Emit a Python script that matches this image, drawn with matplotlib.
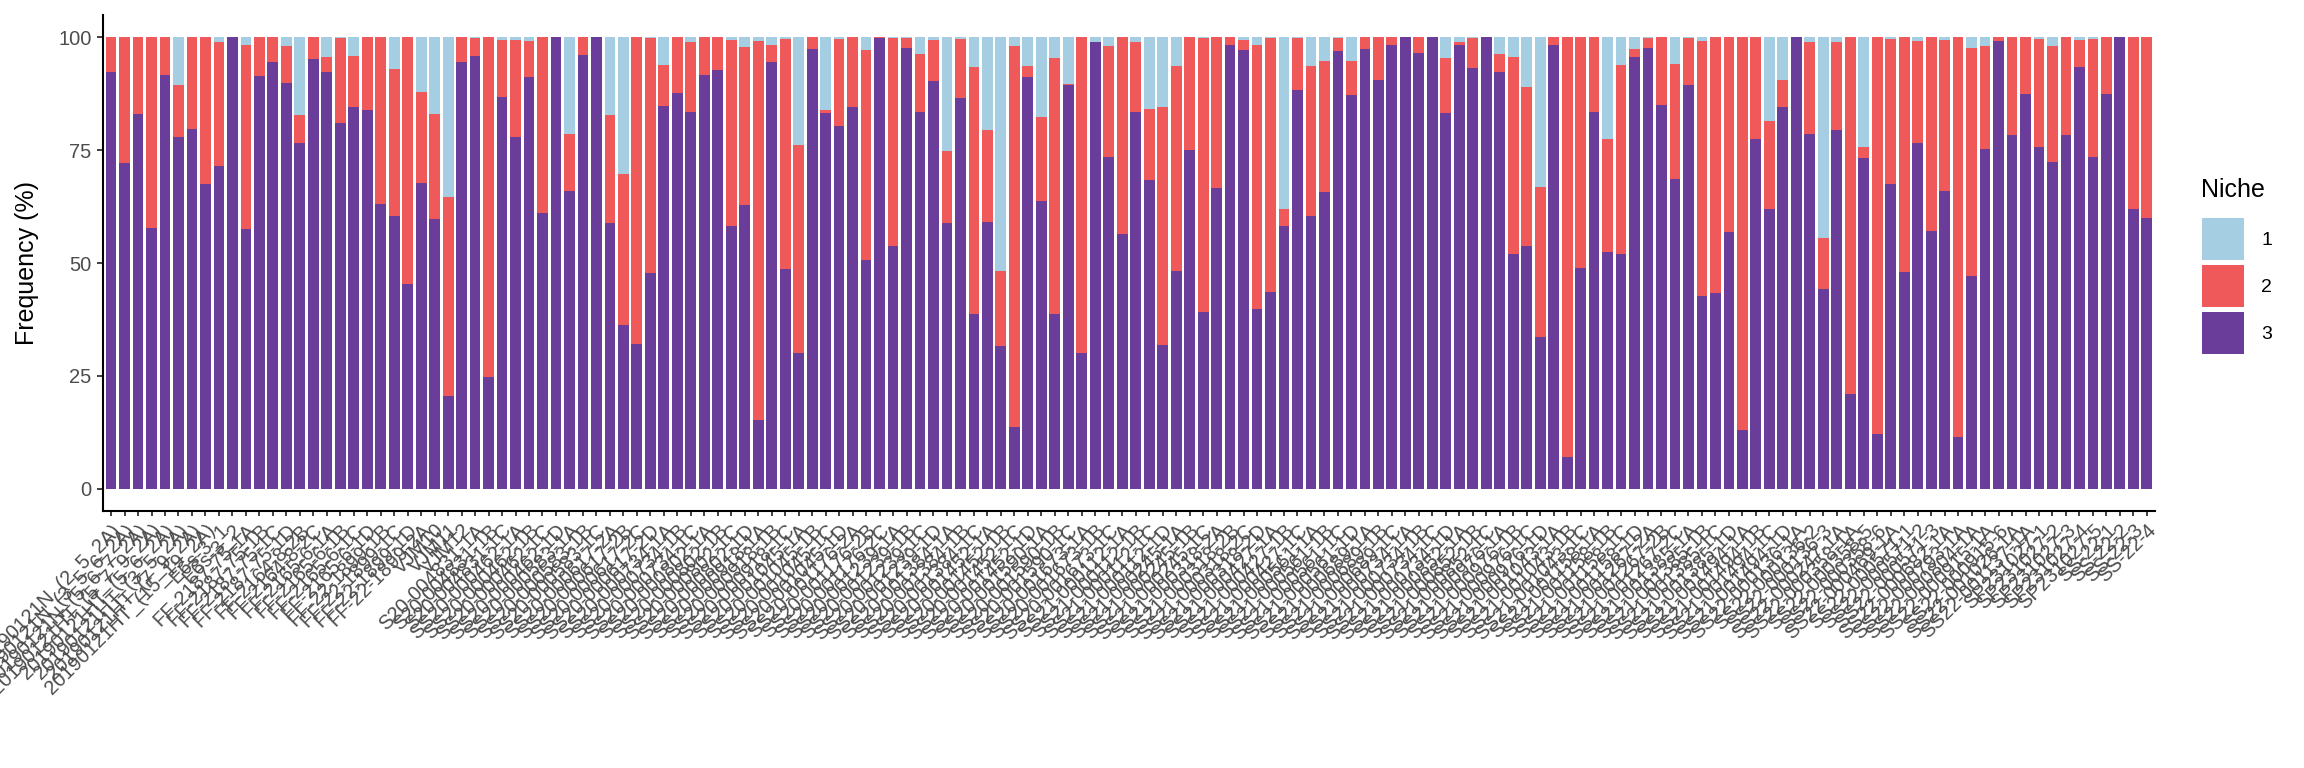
import matplotlib
matplotlib.use("Agg")
import matplotlib.pyplot as plt
from matplotlib.patches import Patch
import numpy as np

plt.rcParams['font.family'] = ['Liberation Sans', 'DejaVu Sans']

# sample names (x axis, in plot order)
samples = [
    "20190121N_(2_5_2A)", "20190121N_(3_5_6_2A)", "20190121N_(5_6_7_2A)", "20190121HT_(5_7_9_2A)",
    "20190121HT_(5_6_2A)", "20190121HT_(3_5_2A)", "20190121HT_(7_9_2A)", "20190121HT_(15_19_2A)",
    "E6s-3_1", "E6s-3_2",
    "FF-2187-75-1A", "FF-2187-75-1B", "FF-2187-75-1C", "FF-2187-75-1D", "FF-2164-8-2B", "FF-2164-8-2C",
    "FF-2165-6-1A", "FF-2165-6-1B", "FF-2165-6-1C", "FF-2165-6-1D", "FF-22-1899-1B", "FF-22-1899-1C",
    "FF-22-1899-1D", "FF-22-1899-2A",
    "VJM10", "VJM11", "VJM12",
    "S20-004831-1A", "S20-004831-1B", "S20-004831-1C",
    "SS20-000462-1A", "SS20-000462-1B", "SS20-000462-1C", "SS20-000462-1D",
    "SS20-000583-1A", "SS20-000583-1B", "SS20-000583-1C",
    "SS20-000617-2A", "SS20-000617-2B", "SS20-000617-2C", "SS20-000617-2D",
    "SS20-000734-1A", "SS20-000734-1B", "SS20-000734-1C",
    "SS20-000802-1A", "SS20-000802-1B", "SS20-000802-1C", "SS20-000802-1D",
    "SS20-000918-1A", "SS20-000918-1B", "SS20-000918-1C",
    "SS20-001045-1A", "SS20-001045-1B", "SS20-001045-1C", "SS20-001045-1D",
    "SS20-001176-2A", "SS20-001176-2B", "SS20-001176-2C",
    "SS20-001239-1A", "SS20-001239-1B", "SS20-001239-1C", "SS20-001239-1D",
    "SS20-001384-1A", "SS20-001384-1B", "SS20-001384-1C",
    "SS20-001452-1A", "SS20-001452-1B", "SS20-001452-1C", "SS20-001452-1D",
    "SS20-001590-1A", "SS20-001590-1B", "SS20-001590-1C",
    "SS20-001673-1A", "SS20-001673-1B", "SS20-001673-1C",
    "SS21-000112-1A", "SS21-000112-1B", "SS21-000112-1C", "SS21-000112-1D",
    "SS21-000245-1A", "SS21-000245-1B", "SS21-000245-1C",
    "SS21-000318-2A", "SS21-000318-2B", "SS21-000318-2C", "SS21-000318-2D",
    "SS21-000427-1A", "SS21-000427-1B", "SS21-000427-1C",
    "SS21-000561-1A", "SS21-000561-1B", "SS21-000561-1C", "SS21-000561-1D",
    "SS21-000689-1A", "SS21-000689-1B", "SS21-000689-1C",
    "SS21-000734-1A", "SS21-000734-1B", "SS21-000734-1C", "SS21-000734-1D",
    "SS21-000852-1A", "SS21-000852-1B", "SS21-000852-1C",
    "SS21-000976-1A", "SS21-000976-1B", "SS21-000976-1C", "SS21-000976-1D",
    "SS21-001043-1A", "SS21-001043-1B", "SS21-001043-1C",
    "SS21-001158-1A", "SS21-001158-1B", "SS21-001158-1C", "SS21-001158-1D",
    "SS21-001267-2A", "SS21-001267-2B", "SS21-001267-2C",
    "SS21-001385-1A", "SS21-001385-1B", "SS21-001385-1C", "SS21-001385-1D",
    "SS21-001494-1A", "SS21-001494-1B", "SS21-001494-1C", "SS21-001494-1D",
    "SS22-000136-1A", "SS22-000136-2", "SS22-000136-3", "SS22-000247-1A",
    "SS22-000358-1A", "SS22-000358-5", "SS22-000358-6", "SS22-000469-1A",
    "SS22-000571-1", "SS22-000571-2", "SS22-000571-3", "SS22-000682-1A",
    "SS22-000793-1A", "SS22-000804-1A", "SS22-000915-1A", "SS22-000915-6",
    "SS22-001026-1A", "SS22-001137-1A",
    "SP231027-1", "SP231027-2", "SP231027-3", "SP231027-4", "SP231027-5",
    "SS-22-1", "SS-22-2", "SS-22-3", "SS-22-4",
]

# frequency (%) of each niche per sample
niche3 = [
    92.3, 72.1, 83.0, 57.7, 91.6, 77.9, 79.6, 67.5, 71.5, 100.0,
    57.5, 91.4, 94.5, 89.8, 76.5, 95.1, 92.3, 81.0, 84.5, 83.8,
    63.1, 60.4, 45.4, 67.7, 59.7, 20.6, 94.5, 95.8, 24.8, 86.7,
    77.9, 91.2, 61.1, 100.0, 65.9, 96.0, 100.0, 58.8, 36.3, 32.1,
    47.8, 84.7, 87.6, 83.4, 91.6, 92.7, 58.2, 62.8, 15.3, 94.5,
    48.7, 30.1, 97.3, 83.2, 80.3, 84.5, 50.7, 99.8, 53.8, 97.6,
    83.4, 90.3, 58.8, 86.5, 38.7, 59.1, 31.6, 13.7, 91.2, 63.7,
    38.7, 89.4, 30.1, 98.9, 73.5, 56.4, 83.4, 68.4, 31.9, 48.2,
    75.0, 39.2, 66.6, 98.2, 97.1, 39.8, 43.6, 58.2, 88.3, 60.4,
    65.7, 96.9, 87.2, 97.3, 90.5, 98.2, 100.0, 96.5, 100.0, 83.2,
    98.2, 93.1, 100.0, 92.3, 52.0, 53.8, 33.6, 98.2, 7.1, 48.9,
    83.4, 52.4, 52.0, 95.6, 97.6, 85.0, 68.6, 89.4, 42.7, 43.4,
    56.9, 13.1, 77.4, 61.9, 84.5, 100.0, 78.5, 44.2, 79.4, 21.0,
    73.2, 12.2, 67.5, 48.0, 76.5, 57.1, 65.9, 11.5, 47.1, 75.2,
    99.1, 78.3, 87.4, 75.7, 72.3, 78.3, 93.4, 73.5, 87.4, 100.0,
    61.9, 60.0,
]
niche2 = [
    7.7, 27.9, 17.0, 42.3, 8.4, 11.5, 20.4, 32.5, 27.4, 0.0,
    40.7, 8.6, 5.5, 8.2, 6.2, 4.9, 3.3, 18.8, 11.3, 16.2,
    36.9, 32.5, 54.6, 20.1, 23.3, 44.0, 5.5, 4.0, 75.2, 12.6,
    21.4, 7.9, 38.9, 0.0, 12.6, 4.0, 0.0, 23.9, 33.5, 67.9,
    52.0, 9.1, 12.4, 15.5, 8.4, 7.3, 41.1, 35.0, 83.8, 3.7,
    50.9, 46.0, 2.7, 0.6, 19.3, 15.5, 46.4, 0.2, 46.0, 2.2,
    12.8, 9.0, 16.0, 13.1, 54.7, 20.3, 16.6, 84.3, 2.4, 18.6,
    56.7, 0.2, 69.9, 0.0, 24.5, 43.6, 15.5, 15.7, 52.6, 45.4,
    25.0, 60.6, 33.4, 1.8, 2.2, 58.4, 56.2, 3.7, 11.5, 33.2,
    29.0, 2.9, 7.5, 2.7, 9.5, 1.8, 0.0, 3.5, 0.0, 12.2,
    0.7, 6.7, 0.0, 3.9, 43.6, 35.1, 33.2, 1.8, 92.9, 51.1,
    16.6, 25.0, 41.8, 1.7, 2.2, 15.0, 25.4, 10.4, 56.4, 56.6,
    43.1, 86.9, 22.6, 19.5, 6.0, 0.0, 20.4, 11.3, 19.5, 79.0,
    2.5, 87.8, 32.1, 52.0, 22.6, 42.9, 33.4, 88.5, 50.5, 22.8,
    0.9, 21.7, 12.6, 23.9, 25.7, 21.7, 5.9, 26.1, 12.6, 0.0,
    38.1, 40.0,
]
niche1 = [
    0.0, 0.0, 0.0, 0.0, 0.0, 10.6, 0.0, 0.0, 1.1, 0.0,
    1.8, 0.0, 0.0, 2.0, 17.3, 0.0, 4.4, 0.2, 4.2, 0.0,
    0.0, 7.1, 0.0, 12.2, 17.0, 35.4, 0.0, 0.2, 0.0, 0.7,
    0.7, 0.9, 0.0, 0.0, 21.5, 0.0, 0.0, 17.3, 30.2, 0.0,
    0.2, 6.2, 0.0, 1.1, 0.0, 0.0, 0.7, 2.2, 0.9, 1.8,
    0.4, 23.9, 0.0, 16.2, 0.4, 0.0, 2.9, 0.0, 0.2, 0.2,
    3.8, 0.7, 25.2, 0.4, 6.6, 20.6, 51.8, 2.0, 6.4, 17.7,
    4.6, 10.4, 0.0, 1.1, 2.0, 0.0, 1.1, 15.9, 15.5, 6.4,
    0.0, 0.2, 0.0, 0.0, 0.7, 1.8, 0.2, 38.1, 0.2, 6.4,
    5.3, 0.2, 5.3, 0.0, 0.0, 0.0, 0.0, 0.0, 0.0, 4.6,
    1.1, 0.2, 0.0, 3.8, 4.4, 11.1, 33.2, 0.0, 0.0, 0.0,
    0.0, 22.6, 6.2, 2.7, 0.2, 0.0, 6.0, 0.2, 0.9, 0.0,
    0.0, 0.0, 0.0, 18.6, 9.5, 0.0, 1.1, 44.5, 1.1, 0.0,
    24.3, 0.0, 0.4, 0.0, 0.9, 0.0, 0.7, 0.0, 2.4, 2.0,
    0.0, 0.0, 0.0, 0.4, 2.0, 0.0, 0.7, 0.4, 0.0, 0.0,
    0.0, 0.0,
]

niches = ["1", "2", "3"]
colors = {"1": "#A6CEE3", "2": "#F0595A", "3": "#6A3D9A"}

x = np.arange(1, len(samples) + 1)
n1 = np.array(niche1)
n2 = np.array(niche2)
n3 = np.array(niche3)

fig = plt.figure(figsize=(23.04, 7.68), dpi=100)
ax = fig.add_axes([0.0447, 0.334, 0.8906, 0.647])

# stacked: niche 3 at bottom, then 2, then 1 on top
ax.bar(x, n3, width=0.8, color=colors["3"], linewidth=0)
ax.bar(x, n2, width=0.8, bottom=n3, color=colors["2"], linewidth=0)
ax.bar(x, n1, width=0.8, bottom=n3 + n2, color=colors["1"], linewidth=0)

ax.set_xlim(0.4, len(samples) + 0.6)
ax.set_ylim(-5, 105)
ax.set_yticks([0, 25, 50, 75, 100])
ax.set_xticks(x)
ax.set_xticklabels(samples, rotation=45, ha='right', va='top',
                   rotation_mode='anchor', fontsize=14.5, color='#4D4D4D')
ax.tick_params(axis='y', labelsize=14.5, labelcolor='#4D4D4D', length=4.3,
               width=1.3, color='#333333', pad=4)
ax.tick_params(axis='x', length=3.6, width=1.3, color='#333333', pad=3)

for side in ['top', 'right']:
    ax.spines[side].set_visible(False)
for side in ['left', 'bottom']:
    ax.spines[side].set_linewidth(1.5)
    ax.spines[side].set_color('black')

ax.set_ylabel('Frequency (%)', fontsize=18, color='black')
ax.yaxis.set_label_coords(-0.031, 0.5)

# legend: keys placed under a separate title
handles = [Patch(facecolor=colors[n], edgecolor='none') for n in niches]
leg = ax.legend(handles, niches, loc='upper left',
                bbox_to_anchor=(0.9557, 0.7161), bbox_transform=fig.transFigure,
                frameon=False, fontsize=14,
                handlelength=2.16, handleheight=2.95, labelspacing=0.257,
                handletextpad=0.9, borderpad=0, borderaxespad=0)
fig.text(0.9551, 1 - 196.7 / 768, 'Niche', fontsize=18, ha='left', va='baseline')

fig.savefig('out.png', dpi=100)
